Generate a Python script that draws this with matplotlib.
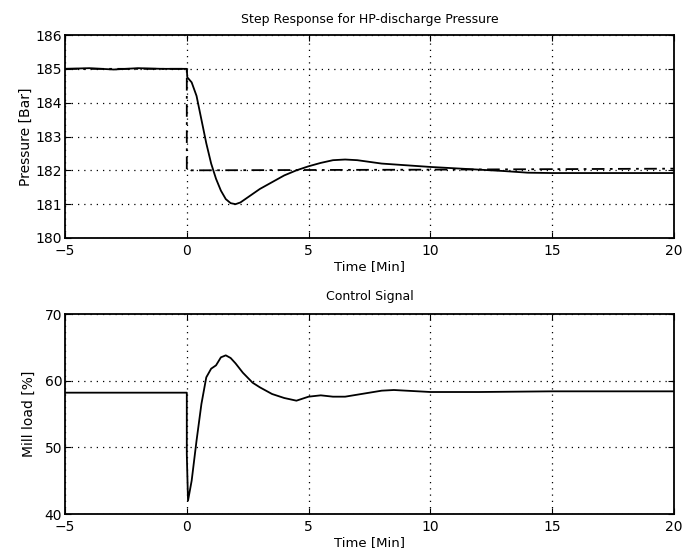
import numpy as np
import matplotlib
matplotlib.use('Agg')
import matplotlib.pyplot as plt

# step response for HP-discharge pressure
t_press = [-5, -4, -3, -2, -1, 0, 0.02, 0.2, 0.4, 0.6, 0.8, 1.0, 1.2, 1.4,
           1.6, 1.8, 2.0, 2.2, 2.5, 3.0, 3.5, 4.0, 4.5, 5.0, 5.5, 6.0,
           6.5, 7.0, 7.5, 8.0, 9.0, 10.0, 11.0, 12.0, 13.0, 14.0, 15.0,
           17.0, 20.0]
pressure = [185.0, 185.02, 184.98, 185.02, 185.0, 185.0, 184.75, 184.6,
            184.2, 183.5, 182.8, 182.2, 181.75, 181.4, 181.15, 181.03,
            181.0, 181.05, 181.2, 181.45, 181.65, 181.85, 182.0, 182.12,
            182.22, 182.3, 182.32, 182.3, 182.25, 182.2, 182.15, 182.1,
            182.06, 182.02, 181.98, 181.93, 181.92, 181.92, 181.92]

# reference (dash-dot)
t_ref = [-5, 0, 0, 10, 20]
ref = [185.0, 185.0, 182.0, 182.02, 182.05]

# control signal
t_ctrl = [-5, 0, 0, 0.05, 0.2, 0.4, 0.6, 0.8, 1.0, 1.2, 1.4, 1.6, 1.8,
          2.0, 2.3, 2.7, 3.0, 3.5, 4.0, 4.5, 5.0, 5.5, 6.0, 6.5, 7.0,
          7.5, 8.0, 8.5, 9.0, 10.0, 12.0, 15.0, 20.0]
mill_load = [58.2, 58.2, 49.0, 42.0, 45.0, 51.0, 56.5, 60.5, 61.8, 62.3,
             63.5, 63.8, 63.4, 62.6, 61.2, 59.7, 59.0, 58.0, 57.4, 57.0,
             57.6, 57.8, 57.6, 57.6, 57.9, 58.2, 58.5, 58.6, 58.5, 58.3,
             58.3, 58.4, 58.4]

plt.rcParams['font.family'] = 'DejaVu Sans'

fig = plt.figure(figsize=(6.87, 5.54), dpi=100)
ax1 = fig.add_axes([0.0946, 0.5704, 0.8865, 0.3664])
ax2 = fig.add_axes([0.0946, 0.0722, 0.8865, 0.361])

ax1.plot(t_press, pressure, color='black', lw=1.3)
ax1.plot(t_ref, ref, color='black', lw=1.3, ls=(0, (7, 3, 1.5, 3)))
ax1.set_xlim(-5, 20)
ax1.set_ylim(180, 186)
ax1.set_yticks(range(180, 187))
ax1.set_title('Step Response for HP-discharge Pressure', fontsize=9, pad=9)
ax1.set_xlabel('Time [Min]', fontsize=9.5, labelpad=2)
ax1.set_ylabel('Pressure [Bar]', fontsize=10, labelpad=2)

ax2.plot(t_ctrl, mill_load, color='black', lw=1.3)
ax2.set_xlim(-5, 20)
ax2.set_ylim(40, 70)
ax2.set_yticks([40, 50, 60, 70])
ax2.set_title('Control Signal', fontsize=9, pad=10)
ax2.set_xlabel('Time [Min]', fontsize=9.5, labelpad=2)
ax2.set_ylabel('Mill load [%]', fontsize=10, labelpad=6)

for ax in (ax1, ax2):
    ax.set_xticks([-5, 0, 5, 10, 15, 20])
    ax.grid(True, color='black', ls=(0, (1, 4)), lw=0.9)
    ax.tick_params(direction='in', length=4, labelsize=10, pad=2,
                   top=True, right=True)
    ax.tick_params(axis='x', pad=4)
    for s in ax.spines.values():
        s.set_linewidth(1.3)

fig.savefig('out.png', dpi=100)
